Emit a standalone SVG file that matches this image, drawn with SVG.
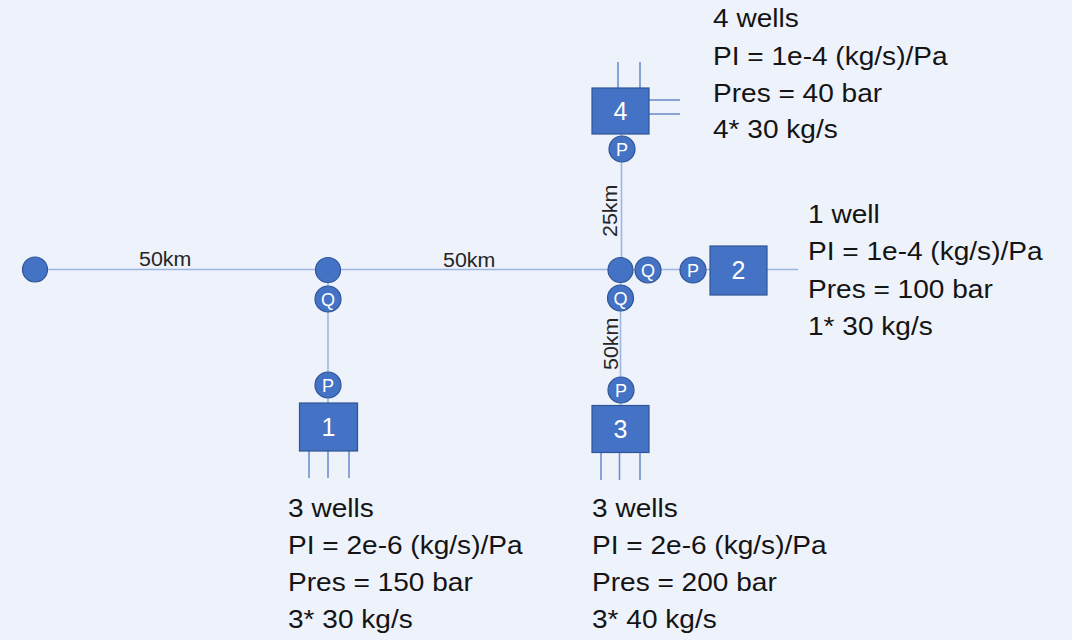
<svg xmlns="http://www.w3.org/2000/svg" width="1072" height="640" viewBox="0 0 1072 640">
  <style>
    .pipe { stroke: #9fb6e2; stroke-width: 1.6; fill: none; }
    .well { stroke: #6e8fd0; stroke-width: 1.6; fill: none; }
    .node { fill: #4472c4; stroke: #2f5597; stroke-width: 1.2; }
    .box { fill: #4472c4; stroke: #2f5597; stroke-width: 1.2; }
    .boxlbl { font-family: "Liberation Sans", Arial, sans-serif; font-size: 25px; fill: #ffffff; text-anchor: middle; }
    .cirlbl { font-family: "Liberation Sans", Arial, sans-serif; font-size: 18px; fill: #ffffff; text-anchor: middle; }
    .km { font-family: "Liberation Sans", Arial, sans-serif; font-size: 20px; fill: #262626; }
    .info { font-family: "Liberation Sans", Arial, sans-serif; font-size: 25.5px; fill: #141414; }
  </style>

  <rect width="1072" height="640" fill="#eef2fb"/>

  <!-- pipelines -->
  <g id="connectors">
    <line class="pipe" x1="35" y1="269.5" x2="620" y2="269.5"/>
    <line class="pipe" x1="620" y1="269.5" x2="798" y2="269.5"/>
    <line class="pipe" x1="328" y1="270" x2="328" y2="386"/>
    <line class="pipe" x1="621.5" y1="134" x2="621.5" y2="270"/>
    <line class="pipe" x1="620.5" y1="270" x2="620.5" y2="406"/>
    <line class="pipe" x1="328" y1="386" x2="328" y2="403"/>
  </g>

  <!-- pipe length labels -->
  <g id="labels">
    <text class="km" transform="translate(139,266) scale(1.07,1)">50km</text>
    <text class="km" transform="translate(443,267) scale(1.07,1)">50km</text>
    <text class="km" transform="translate(617,237) rotate(-90) scale(1.07,1)">25km</text>
    <text class="km" transform="translate(618,370) rotate(-90) scale(1.07,1)">50km</text>
  </g>

  <!-- source end -->
  <g id="end-node">
    <circle class="node" cx="35" cy="269.5" r="12.5"/>
  </g>

  <!-- west junction with branch to cluster 1 -->
  <g id="junction-west">
    <circle class="node" cx="328" cy="270" r="12.5"/>
    <circle class="node" cx="328" cy="299" r="13"/>
    <text class="cirlbl" x="328" y="305.5">Q</text>
  </g>

  <g id="cluster-1">
    <line class="well" x1="309" y1="451" x2="309" y2="478"/>
    <line class="well" x1="328" y1="451" x2="328" y2="478"/>
    <line class="well" x1="349" y1="451" x2="349" y2="478"/>
    <circle class="node" cx="328" cy="385" r="13"/>
    <text class="cirlbl" x="328" y="391.5">P</text>
    <rect class="box" x="299.5" y="403" width="58" height="48"/>
    <text class="boxlbl" x="328.5" y="436">1</text>
    <g class="info">
      <text transform="translate(288,517) scale(1.1,1)">3 wells</text>
      <text transform="translate(288,554) scale(1.1,1)">PI = 2e-6 (kg/s)/Pa</text>
      <text transform="translate(288,591) scale(1.1,1)">Pres = 150 bar</text>
      <text transform="translate(288,628) scale(1.1,1)">3* 30 kg/s</text>
    </g>
  </g>

  <!-- east junction -->
  <g id="junction-east">
    <circle class="node" cx="620.5" cy="270" r="12.5"/>
    <circle class="node" cx="648" cy="270" r="13"/>
    <text class="cirlbl" x="648" y="276.5">Q</text>
    <circle class="node" cx="620.5" cy="298" r="13"/>
    <text class="cirlbl" x="620.5" y="304.5">Q</text>
  </g>

  <g id="cluster-2">
    <circle class="node" cx="693" cy="270" r="13"/>
    <text class="cirlbl" x="693" y="276.5">P</text>
    <rect class="box" x="710" y="246" width="57" height="49"/>
    <text class="boxlbl" x="738.5" y="279">2</text>
    <g class="info">
      <text transform="translate(808,223) scale(1.1,1)">1 well</text>
      <text transform="translate(808,260) scale(1.1,1)">PI = 1e-4 (kg/s)/Pa</text>
      <text transform="translate(808,298) scale(1.1,1)">Pres = 100 bar</text>
      <text transform="translate(808,335) scale(1.1,1)">1* 30 kg/s</text>
    </g>
  </g>

  <g id="cluster-3">
    <line class="well" x1="601" y1="453" x2="601" y2="480"/>
    <line class="well" x1="619.5" y1="453" x2="619.5" y2="480"/>
    <line class="well" x1="640" y1="453" x2="640" y2="480"/>
    <circle class="node" cx="621" cy="390" r="13"/>
    <text class="cirlbl" x="621" y="396.5">P</text>
    <rect class="box" x="592" y="405.5" width="57" height="47"/>
    <text class="boxlbl" x="620.5" y="438">3</text>
    <g class="info">
      <text transform="translate(592,517) scale(1.1,1)">3 wells</text>
      <text transform="translate(592,554) scale(1.1,1)">PI = 2e-6 (kg/s)/Pa</text>
      <text transform="translate(592,591) scale(1.1,1)">Pres = 200 bar</text>
      <text transform="translate(592,628) scale(1.1,1)">3* 40 kg/s</text>
    </g>
  </g>

  <g id="cluster-4">
    <line class="well" x1="618" y1="62" x2="618" y2="88"/>
    <line class="well" x1="640" y1="62" x2="640" y2="88"/>
    <line class="well" x1="649" y1="100" x2="680" y2="100"/>
    <line class="well" x1="649" y1="114" x2="680" y2="114"/>
    <circle class="node" cx="622" cy="149" r="13"/>
    <text class="cirlbl" x="622" y="155.5">P</text>
    <rect class="box" x="592" y="88" width="57" height="46"/>
    <text class="boxlbl" x="620.5" y="120">4</text>
    <g class="info">
      <text transform="translate(713,27) scale(1.1,1)">4 wells</text>
      <text transform="translate(713,65) scale(1.1,1)">PI = 1e-4 (kg/s)/Pa</text>
      <text transform="translate(713,102) scale(1.1,1)">Pres = 40 bar</text>
      <text transform="translate(713,138) scale(1.1,1)">4* 30 kg/s</text>
    </g>
  </g>
</svg>
